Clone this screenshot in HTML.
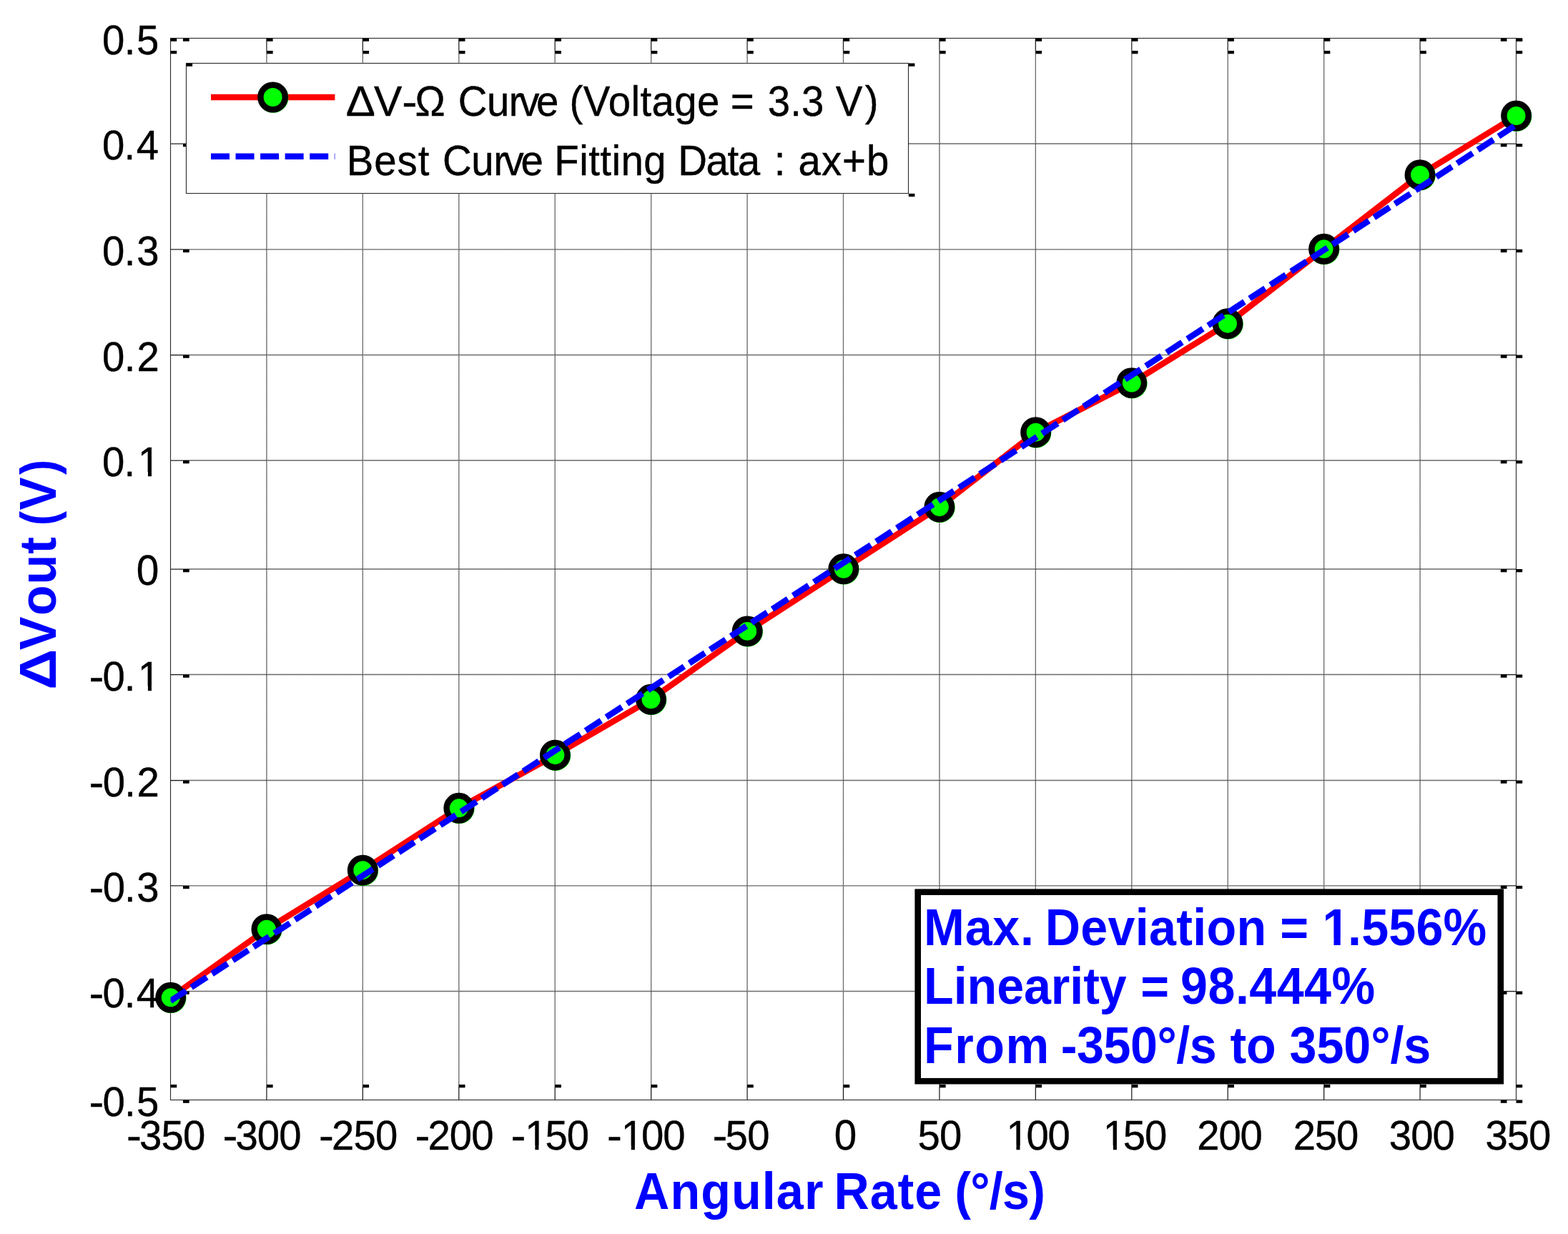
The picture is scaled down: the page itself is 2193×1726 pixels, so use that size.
<!DOCTYPE html>
<html lang="en"><head><meta charset="utf-8"><title>ΔVout vs Angular Rate</title>
<style>html,body{margin:0;padding:0;background:#fff;overflow:hidden}svg{display:block}text{font-family:"Liberation Sans",Arial,Helvetica,sans-serif}</style></head>
<body>
<svg width="2193" height="1726" viewBox="0 0 2193 1726" role="img" aria-label="ΔVout versus angular rate">
<title>ΔVout (V) versus Angular Rate (°/s)</title>
<desc>Line chart. Y axis: ΔVout (V), from -0.5 to 0.5 (ticks 0.5 0.4 0.3 0.2 0.1 0 -0.1 -0.2 -0.3 -0.4 -0.5). X axis: Angular Rate (°/s), from -350 to 350 (ticks -350 -300 -250 -200 -150 -100 -50 0 50 100 150 200 250 300 350). Legend: ΔV-Ω Curve (Voltage = 3.3 V); Best Curve Fitting Data : ax+b. Note: Max. Deviation = 1.556%, Linearity = 98.444%, From -350°/s to 350°/s.</desc>
<rect width="2193" height="1726" fill="#fff"/>
<path d="M372.93 54V1538.5M507.36 54V1538.5M641.79 54V1538.5M776.21 54V1538.5M910.64 54V1538.5M1045.07 54V1538.5M1179.5 54V1538.5M1313.93 54V1538.5M1448.36 54V1538.5M1582.79 54V1538.5M1717.21 54V1538.5M1851.64 54V1538.5M1986.07 54V1538.5M239 201H2120.5M239 348.8H2120.5M239 496.5H2120.5M239 644H2120.5M239 796H2120.5M239 943.5H2120.5M239 1091.5H2120.5M239 1238.9H2120.5M239 1386.5H2120.5" stroke="#000" stroke-width="1.3" stroke-opacity="0.4" fill="none"/>
<path d="M372.93 54V1538.5M507.36 54V1538.5M641.79 54V1538.5M776.21 54V1538.5M910.64 54V1538.5M1045.07 54V1538.5M1179.5 54V1538.5M1313.93 54V1538.5M1448.36 54V1538.5M1582.79 54V1538.5M1717.21 54V1538.5M1851.64 54V1538.5M1986.07 54V1538.5M239 201H2120.5M239 348.8H2120.5M239 496.5H2120.5M239 644H2120.5M239 796H2120.5M239 943.5H2120.5M239 1091.5H2120.5M239 1238.9H2120.5M239 1386.5H2120.5" stroke="#000" stroke-width="1.3" stroke-dasharray="1 1" stroke-opacity="0.55" fill="none"/>
<path d="M372.93 53.5L372.93 71M372.93 1521L372.93 1538.5M507.36 53.5L507.36 71M507.36 1521L507.36 1538.5M641.79 53.5L641.79 71M641.79 1521L641.79 1538.5M776.21 53.5L776.21 71M776.21 1521L776.21 1538.5M910.64 53.5L910.64 71M910.64 1521L910.64 1538.5M1045.07 53.5L1045.07 71M1045.07 1521L1045.07 1538.5M1179.5 53.5L1179.5 71M1179.5 1521L1179.5 1538.5M1313.93 53.5L1313.93 71M1313.93 1521L1313.93 1538.5M1448.36 53.5L1448.36 71M1448.36 1521L1448.36 1538.5M1582.79 53.5L1582.79 71M1582.79 1521L1582.79 1538.5M1717.21 53.5L1717.21 71M1717.21 1521L1717.21 1538.5M1851.64 53.5L1851.64 71M1851.64 1521L1851.64 1538.5M1986.07 53.5L1986.07 71M1986.07 1521L1986.07 1538.5M238.5 201L256 201M2098.8 201L2120.5 201M238.5 348.8L256 348.8M2098.8 348.8L2120.5 348.8M238.5 496.5L256 496.5M2098.8 496.5L2120.5 496.5M238.5 644L256 644M2098.8 644L2120.5 644M238.5 796L256 796M2098.8 796L2120.5 796M238.5 943.5L256 943.5M2098.8 943.5L2120.5 943.5M238.5 1091.5L256 1091.5M2098.8 1091.5L2120.5 1091.5M238.5 1238.9L256 1238.9M2098.8 1238.9L2120.5 1238.9M238.5 1386.5L256 1386.5M2098.8 1386.5L2120.5 1386.5" stroke="#fff" stroke-width="2.2" fill="none"/>
<rect x="238.5" y="53.5" width="1882" height="1485" fill="none" stroke="#303030" stroke-width="1.15"/>
<path d="M372.93 53.5L372.93 71M372.93 1521L372.93 1538.5M507.36 53.5L507.36 71M507.36 1521L507.36 1538.5M641.79 53.5L641.79 71M641.79 1521L641.79 1538.5M776.21 53.5L776.21 71M776.21 1521L776.21 1538.5M910.64 53.5L910.64 71M910.64 1521L910.64 1538.5M1045.07 53.5L1045.07 71M1045.07 1521L1045.07 1538.5M1179.5 53.5L1179.5 71M1179.5 1521L1179.5 1538.5M1313.93 53.5L1313.93 71M1313.93 1521L1313.93 1538.5M1448.36 53.5L1448.36 71M1448.36 1521L1448.36 1538.5M1582.79 53.5L1582.79 71M1582.79 1521L1582.79 1538.5M1717.21 53.5L1717.21 71M1717.21 1521L1717.21 1538.5M1851.64 53.5L1851.64 71M1851.64 1521L1851.64 1538.5M1986.07 53.5L1986.07 71M1986.07 1521L1986.07 1538.5M238.5 201L256 201M2098.8 201L2120.5 201M238.5 348.8L256 348.8M2098.8 348.8L2120.5 348.8M238.5 496.5L256 496.5M2098.8 496.5L2120.5 496.5M238.5 644L256 644M2098.8 644L2120.5 644M238.5 796L256 796M2098.8 796L2120.5 796M238.5 943.5L256 943.5M2098.8 943.5L2120.5 943.5M238.5 1091.5L256 1091.5M2098.8 1091.5L2120.5 1091.5M238.5 1238.9L256 1238.9M2098.8 1238.9L2120.5 1238.9M238.5 1386.5L256 1386.5M2098.8 1386.5L2120.5 1386.5" stroke="#222" stroke-width="1.25" fill="none"/>
<g fill="#000"><rect x="238.5" y="53.5" width="8.7" height="4.3"/><rect x="238.5" y="71" width="8.7" height="4.3"/><rect x="238.5" y="1517" width="8.7" height="4.3"/><rect x="372.93" y="53.5" width="8.7" height="4.3"/><rect x="372.93" y="71" width="8.7" height="4.3"/><rect x="372.93" y="1517" width="8.7" height="4.3"/><rect x="507.36" y="53.5" width="8.7" height="4.3"/><rect x="507.36" y="71" width="8.7" height="4.3"/><rect x="507.36" y="1517" width="8.7" height="4.3"/><rect x="641.79" y="53.5" width="8.7" height="4.3"/><rect x="641.79" y="71" width="8.7" height="4.3"/><rect x="641.79" y="1517" width="8.7" height="4.3"/><rect x="776.21" y="53.5" width="8.7" height="4.3"/><rect x="776.21" y="71" width="8.7" height="4.3"/><rect x="776.21" y="1517" width="8.7" height="4.3"/><rect x="910.64" y="53.5" width="8.7" height="4.3"/><rect x="910.64" y="71" width="8.7" height="4.3"/><rect x="910.64" y="1517" width="8.7" height="4.3"/><rect x="1045.07" y="53.5" width="8.7" height="4.3"/><rect x="1045.07" y="71" width="8.7" height="4.3"/><rect x="1045.07" y="1517" width="8.7" height="4.3"/><rect x="1179.5" y="53.5" width="8.7" height="4.3"/><rect x="1179.5" y="71" width="8.7" height="4.3"/><rect x="1179.5" y="1517" width="8.7" height="4.3"/><rect x="1313.93" y="53.5" width="8.7" height="4.3"/><rect x="1313.93" y="71" width="8.7" height="4.3"/><rect x="1313.93" y="1517" width="8.7" height="4.3"/><rect x="1448.36" y="53.5" width="8.7" height="4.3"/><rect x="1448.36" y="71" width="8.7" height="4.3"/><rect x="1448.36" y="1517" width="8.7" height="4.3"/><rect x="1582.79" y="53.5" width="8.7" height="4.3"/><rect x="1582.79" y="71" width="8.7" height="4.3"/><rect x="1582.79" y="1517" width="8.7" height="4.3"/><rect x="1717.21" y="53.5" width="8.7" height="4.3"/><rect x="1717.21" y="71" width="8.7" height="4.3"/><rect x="1717.21" y="1517" width="8.7" height="4.3"/><rect x="1851.64" y="53.5" width="8.7" height="4.3"/><rect x="1851.64" y="71" width="8.7" height="4.3"/><rect x="1851.64" y="1517" width="8.7" height="4.3"/><rect x="1986.07" y="53.5" width="8.7" height="4.3"/><rect x="1986.07" y="71" width="8.7" height="4.3"/><rect x="1986.07" y="1517" width="8.7" height="4.3"/><rect x="2120.5" y="53.5" width="8.7" height="4.3"/><rect x="2120.5" y="71" width="8.7" height="4.3"/><rect x="2120.5" y="1517" width="8.7" height="4.3"/><rect x="256" y="53.5" width="8.7" height="4.3"/><rect x="2098.8" y="53.5" width="8.7" height="4.3"/><rect x="2120.5" y="53.5" width="8.7" height="4.3"/><rect x="256" y="201" width="8.7" height="4.3"/><rect x="2098.8" y="201" width="8.7" height="4.3"/><rect x="2120.5" y="201" width="8.7" height="4.3"/><rect x="256" y="348.8" width="8.7" height="4.3"/><rect x="2098.8" y="348.8" width="8.7" height="4.3"/><rect x="2120.5" y="348.8" width="8.7" height="4.3"/><rect x="256" y="496.5" width="8.7" height="4.3"/><rect x="2098.8" y="496.5" width="8.7" height="4.3"/><rect x="2120.5" y="496.5" width="8.7" height="4.3"/><rect x="256" y="644" width="8.7" height="4.3"/><rect x="2098.8" y="644" width="8.7" height="4.3"/><rect x="2120.5" y="644" width="8.7" height="4.3"/><rect x="256" y="796" width="8.7" height="4.3"/><rect x="2098.8" y="796" width="8.7" height="4.3"/><rect x="2120.5" y="796" width="8.7" height="4.3"/><rect x="256" y="943.5" width="8.7" height="4.3"/><rect x="2098.8" y="943.5" width="8.7" height="4.3"/><rect x="2120.5" y="943.5" width="8.7" height="4.3"/><rect x="256" y="1091.5" width="8.7" height="4.3"/><rect x="2098.8" y="1091.5" width="8.7" height="4.3"/><rect x="2120.5" y="1091.5" width="8.7" height="4.3"/><rect x="256" y="1238.9" width="8.7" height="4.3"/><rect x="2098.8" y="1238.9" width="8.7" height="4.3"/><rect x="2120.5" y="1238.9" width="8.7" height="4.3"/><rect x="256" y="1386.5" width="8.7" height="4.3"/><rect x="2098.8" y="1386.5" width="8.7" height="4.3"/><rect x="2120.5" y="1386.5" width="8.7" height="4.3"/><rect x="256" y="1538.5" width="8.7" height="4.3"/><rect x="2098.8" y="1538.5" width="8.7" height="4.3"/><rect x="2120.5" y="1538.5" width="8.7" height="4.3"/></g>
<path d="M238.7 1395.3 L372.9 1299.6 L507.3 1217.2 L641.8 1130.3 L776.4 1056.2 L910.5 978.3 L1045.2 882.9 L1179.8 795.8 L1313.9 709.2 L1448.6 604.7 L1582.8 535.6 L1717 452.7 L1851.6 348.3 L1986 244.6 L2120.6 162" fill="none" stroke="#ff0000" stroke-width="8.5" stroke-linejoin="round"/>
<g><circle cx="239.3" cy="1395.9" r="21.2" fill="#00ff00"/><circle cx="238.7" cy="1395.3" r="17.2" fill="#00ff00" stroke="#000" stroke-width="8.5"/><circle cx="373.5" cy="1300.2" r="21.2" fill="#00ff00"/><circle cx="372.9" cy="1299.6" r="17.2" fill="#00ff00" stroke="#000" stroke-width="8.5"/><circle cx="507.9" cy="1217.8" r="21.2" fill="#00ff00"/><circle cx="507.3" cy="1217.2" r="17.2" fill="#00ff00" stroke="#000" stroke-width="8.5"/><circle cx="642.4" cy="1130.9" r="21.2" fill="#00ff00"/><circle cx="641.8" cy="1130.3" r="17.2" fill="#00ff00" stroke="#000" stroke-width="8.5"/><circle cx="777" cy="1056.8" r="21.2" fill="#00ff00"/><circle cx="776.4" cy="1056.2" r="17.2" fill="#00ff00" stroke="#000" stroke-width="8.5"/><circle cx="911.1" cy="978.9" r="21.2" fill="#00ff00"/><circle cx="910.5" cy="978.3" r="17.2" fill="#00ff00" stroke="#000" stroke-width="8.5"/><circle cx="1045.8" cy="883.5" r="21.2" fill="#00ff00"/><circle cx="1045.2" cy="882.9" r="17.2" fill="#00ff00" stroke="#000" stroke-width="8.5"/><circle cx="1180.4" cy="796.4" r="21.2" fill="#00ff00"/><circle cx="1179.8" cy="795.8" r="17.2" fill="#00ff00" stroke="#000" stroke-width="8.5"/><circle cx="1314.5" cy="709.8" r="21.2" fill="#00ff00"/><circle cx="1313.9" cy="709.2" r="17.2" fill="#00ff00" stroke="#000" stroke-width="8.5"/><circle cx="1449.2" cy="605.3" r="21.2" fill="#00ff00"/><circle cx="1448.6" cy="604.7" r="17.2" fill="#00ff00" stroke="#000" stroke-width="8.5"/><circle cx="1583.4" cy="536.2" r="21.2" fill="#00ff00"/><circle cx="1582.8" cy="535.6" r="17.2" fill="#00ff00" stroke="#000" stroke-width="8.5"/><circle cx="1717.6" cy="453.3" r="21.2" fill="#00ff00"/><circle cx="1717" cy="452.7" r="17.2" fill="#00ff00" stroke="#000" stroke-width="8.5"/><circle cx="1852.2" cy="348.9" r="21.2" fill="#00ff00"/><circle cx="1851.6" cy="348.3" r="17.2" fill="#00ff00" stroke="#000" stroke-width="8.5"/><circle cx="1986.6" cy="245.2" r="21.2" fill="#00ff00"/><circle cx="1986" cy="244.6" r="17.2" fill="#00ff00" stroke="#000" stroke-width="8.5"/><circle cx="2121.2" cy="162.6" r="21.2" fill="#00ff00"/><circle cx="2120.6" cy="162" r="17.2" fill="#00ff00" stroke="#000" stroke-width="8.5"/></g>
<clipPath id="axclip"><rect x="238.5" y="53.5" width="1882" height="1485"/></clipPath>
<line clip-path="url(#axclip)" x1="228.44" y1="1406.45" x2="2130.56" y2="168.15" stroke="#0000ff" stroke-width="8.5" stroke-dasharray="26.05 8.58" stroke-dashoffset="22.63"/>
<rect x="260.5" y="88.5" width="1010" height="182" fill="#fff" stroke="#303030" stroke-width="1.15"/>
<g fill="#000"><rect x="260.5" y="88.5" width="8.6" height="4.3"/><rect x="1270.8" y="88.5" width="8.6" height="4.3"/><rect x="1270.8" y="270.8" width="8.6" height="4.3"/></g>
<line x1="295" y1="136" x2="468.4" y2="136" stroke="#ff0000" stroke-width="8.5"/>
<circle cx="382.2" cy="136.6" r="21.2" fill="#00ff00"/><circle cx="381.6" cy="136" r="17.2" fill="#00ff00" stroke="#000" stroke-width="8.5"/>
<line x1="295" y1="218.7" x2="468.4" y2="218.7" stroke="#0000ff" stroke-width="8.5" stroke-dasharray="26 8.55"/>
<rect x="1283.7" y="1247.7" width="815.1" height="264.5" fill="#fff" stroke="#000" stroke-width="8.6"/>
<text transform="translate(177 1608.3) scale(0.9650 1)" font-size="58.3" letter-spacing="-0.82" fill="#000" stroke="#000" stroke-width="0.4"><tspan textLength="20.73" lengthAdjust="spacingAndGlyphs">-</tspan><tspan dx="-2.14">3</tspan>50</text>
<text transform="translate(311.5 1608.3) scale(0.9650 1)" font-size="58.3" letter-spacing="-0.85" fill="#000" stroke="#000" stroke-width="0.4"><tspan textLength="20.70" lengthAdjust="spacingAndGlyphs">-</tspan><tspan dx="-2.14">3</tspan>00</text>
<text transform="translate(446.1 1608.3) scale(0.9650 1)" font-size="58.3" letter-spacing="-0.85" fill="#000" stroke="#000" stroke-width="0.4"><tspan textLength="20.70" lengthAdjust="spacingAndGlyphs">-</tspan><tspan dx="-2.14">2</tspan>50</text>
<text transform="translate(580.5 1608.3) scale(0.9650 1)" font-size="58.3" letter-spacing="-0.85" fill="#000" stroke="#000" stroke-width="0.4"><tspan textLength="20.70" lengthAdjust="spacingAndGlyphs">-</tspan><tspan dx="-2.14">2</tspan>00</text>
<text transform="translate(714.5 1608.3) scale(0.9650 1)" font-size="58.3" letter-spacing="-1.05" fill="#000" stroke="#000" stroke-width="0.4"><tspan textLength="20.50" lengthAdjust="spacingAndGlyphs">-</tspan><tspan dx="0.06">1</tspan><tspan dx="-2.20">5</tspan>0</text>
<text transform="translate(848.9 1608.3) scale(0.9650 1)" font-size="58.3" letter-spacing="-1.05" fill="#000" stroke="#000" stroke-width="0.4"><tspan textLength="20.50" lengthAdjust="spacingAndGlyphs">-</tspan><tspan dx="0.06">1</tspan><tspan dx="-2.20">0</tspan>0</text>
<text transform="translate(996.5 1608.3) scale(0.9650 1)" font-size="58.3" letter-spacing="-0.64" fill="#000" stroke="#000" stroke-width="0.4"><tspan textLength="20.91" lengthAdjust="spacingAndGlyphs">-</tspan><tspan dx="-2.14">5</tspan>0</text>
<text transform="translate(1166.78 1608.3) scale(0.9699 1)" font-size="58.3" fill="#000" stroke="#000" stroke-width="0.4">0</text>
<text transform="translate(1283.58 1608.3) scale(0.9650 1)" font-size="58.3" letter-spacing="-0.92" fill="#000" stroke="#000" stroke-width="0.4">50</text>
<text transform="translate(1405.26 1608.3) scale(0.9650 1)" font-size="58.3" letter-spacing="-1.20" fill="#000" stroke="#000" stroke-width="0.4"><tspan dx="2.20">1</tspan><tspan dx="-2.20">0</tspan>0</text>
<text transform="translate(1540.66 1608.3) scale(0.9650 1)" font-size="58.3" letter-spacing="-1.20" fill="#000" stroke="#000" stroke-width="0.4"><tspan dx="2.20">1</tspan><tspan dx="-2.20">5</tspan>0</text>
<text transform="translate(1674.26 1608.3) scale(0.9650 1)" font-size="58.3" letter-spacing="-1.20" fill="#000" stroke="#000" stroke-width="0.4">200</text>
<text transform="translate(1808.66 1608.3) scale(0.9650 1)" font-size="58.3" letter-spacing="-1.20" fill="#000" stroke="#000" stroke-width="0.4">250</text>
<text transform="translate(1942.79 1608.3) scale(0.9650 1)" font-size="58.3" letter-spacing="-0.96" fill="#000" stroke="#000" stroke-width="0.4">300</text>
<text transform="translate(2077.39 1608.3) scale(0.9650 1)" font-size="58.3" letter-spacing="-1.06" fill="#000" stroke="#000" stroke-width="0.4">350</text>
<text transform="translate(143 75.5) scale(0.9650 1)" font-size="58.3" letter-spacing="0.63" fill="#000" stroke="#000" stroke-width="0.4">0<tspan dx="-1.30">.</tspan><tspan dx="1.30">5</tspan></text>
<text transform="translate(143 223) scale(0.9650 1)" font-size="58.3" letter-spacing="0.44" fill="#000" stroke="#000" stroke-width="0.4">0<tspan dx="-1.30">.</tspan><tspan dx="1.30">4</tspan></text>
<text transform="translate(143 370.8) scale(0.9650 1)" font-size="58.3" letter-spacing="0.70" fill="#000" stroke="#000" stroke-width="0.4">0<tspan dx="-1.30">.</tspan><tspan dx="1.30">3</tspan></text>
<text transform="translate(143 518.5) scale(0.9650 1)" font-size="58.3" letter-spacing="0.86" fill="#000" stroke="#000" stroke-width="0.4">0<tspan dx="-1.30">.</tspan><tspan dx="1.30">2</tspan></text>
<text transform="translate(143 666) scale(0.9650 1)" font-size="58.3" letter-spacing="0.44" fill="#000" stroke="#000" stroke-width="0.4">0<tspan dx="-1.30">.</tspan><tspan dx="3.50">1</tspan></text>
<text transform="translate(190.78 818) scale(0.9735 1)" font-size="58.3" fill="#000" stroke="#000" stroke-width="0.4">0</text>
<text transform="translate(124.6 965.5) scale(0.9650 1)" font-size="58.3" letter-spacing="0.16" fill="#000" stroke="#000" stroke-width="0.4"><tspan textLength="21.71" lengthAdjust="spacingAndGlyphs">-</tspan><tspan dx="-2.14">0</tspan><tspan dx="-1.30">.</tspan><tspan dx="3.50">1</tspan></text>
<text transform="translate(124.6 1113.5) scale(0.9650 1)" font-size="58.3" letter-spacing="0.43" fill="#000" stroke="#000" stroke-width="0.4"><tspan textLength="21.98" lengthAdjust="spacingAndGlyphs">-</tspan><tspan dx="-2.14">0</tspan><tspan dx="-1.30">.</tspan><tspan dx="1.30">2</tspan></text>
<text transform="translate(124.6 1260.9) scale(0.9650 1)" font-size="58.3" letter-spacing="0.33" fill="#000" stroke="#000" stroke-width="0.4"><tspan textLength="21.88" lengthAdjust="spacingAndGlyphs">-</tspan><tspan dx="-2.14">0</tspan><tspan dx="-1.30">.</tspan><tspan dx="1.30">3</tspan></text>
<text transform="translate(124.6 1408.5) scale(0.9650 1)" font-size="58.3" letter-spacing="0.16" fill="#000" stroke="#000" stroke-width="0.4"><tspan textLength="21.71" lengthAdjust="spacingAndGlyphs">-</tspan><tspan dx="-2.14">0</tspan><tspan dx="-1.30">.</tspan><tspan dx="1.30">4</tspan></text>
<text transform="translate(124.6 1560.5) scale(0.9650 1)" font-size="58.3" letter-spacing="0.28" fill="#000" stroke="#000" stroke-width="0.4"><tspan textLength="21.83" lengthAdjust="spacingAndGlyphs">-</tspan><tspan dx="-2.14">0</tspan><tspan dx="-1.30">.</tspan><tspan dx="1.30">5</tspan></text>
<text transform="translate(0 162.2) scale(0.9640 1)" font-size="58.5" fill="#000" stroke="#000" stroke-width="0.4" xml:space="preserve"><tspan x="501.83" textLength="42.63" lengthAdjust="spacingAndGlyphs">Δ</tspan><tspan x="542.47" textLength="40.79" lengthAdjust="spacingAndGlyphs">V</tspan><tspan x="583.15" textLength="22.07" lengthAdjust="spacingAndGlyphs">-</tspan><tspan x="602.28" textLength="43.8" lengthAdjust="spacingAndGlyphs">Ω</tspan> <tspan x="664.64" letter-spacing="-0.52">Cur<tspan dx="-4.00">v</tspan><tspan dx="-4.00">e</tspan></tspan> <tspan x="826.23" letter-spacing="0.46">(Voltage</tspan> <tspan x="1059.9">=</tspan> <tspan x="1113.89" letter-spacing="0.14">3.3</tspan> <tspan x="1212.28" letter-spacing="3.60">V)</tspan></text>
<text transform="translate(0 245) scale(0.9640 1)" font-size="58.5" fill="#000" stroke="#000" stroke-width="0.4" xml:space="preserve"><tspan x="502.87" letter-spacing="0.98">Best</tspan> <tspan x="642.24" letter-spacing="-0.52">Cur<tspan dx="-4.00">v</tspan><tspan dx="-4.00">e</tspan></tspan> <tspan x="804.32" letter-spacing="0.47">Fitting</tspan> <tspan x="983.78" letter-spacing="-1.53">Data</tspan> <tspan x="1123.1">:</tspan> <tspan x="1158.27" letter-spacing="1.03">ax+b</tspan></text>
<text transform="translate(0 1322.1) scale(0.9350 1)" font-size="73" font-weight="bold" fill="#0000ff" xml:space="preserve"><tspan x="1381.91" letter-spacing="0.77">Max.</tspan> <tspan x="1563.35" letter-spacing="0.32">Deviation</tspan> <tspan x="1914.65">=</tspan> <tspan x="1975.28" letter-spacing="0.20"><tspan dx="2.74">1</tspan><tspan dx="-2.74">.</tspan>556%</tspan></text>
<text transform="translate(0 1403.9) scale(0.9350 1)" font-size="73" font-weight="bold" fill="#0000ff" xml:space="preserve"><tspan x="1381.91" letter-spacing="-0.10">Linearity</tspan> <tspan x="1706.14">=</tspan> <tspan x="1765.89" letter-spacing="0.47">98.444%</tspan></text>
<text transform="translate(0 1487) scale(0.9350 1)" font-size="73" font-weight="bold" fill="#0000ff" xml:space="preserve"><tspan x="1381.91" letter-spacing="1.60">From</tspan> <tspan x="1586.77" letter-spacing="-0.48">-350°/s</tspan> <tspan x="1840.16" letter-spacing="-0.16">to</tspan> <tspan x="1928.94" letter-spacing="-0.08">350°/s</tspan></text>
<text transform="translate(0 1690.6) scale(0.9350 1)" font-size="73" font-weight="bold" fill="#0000ff" xml:space="preserve"><tspan x="948.77" letter-spacing="1.17">Angular</tspan> <tspan x="1247.52" letter-spacing="1.04">Rate</tspan> <tspan x="1428.01" letter-spacing="-0.78">(°/s)</tspan></text>
<text transform="translate(78.4 0) rotate(-90)" font-size="73" font-weight="bold" fill="#0000ff" xml:space="preserve"><tspan x="-964.71" textLength="56.96" lengthAdjust="spacingAndGlyphs">Δ</tspan><tspan x="-909.28" textLength="46.86" lengthAdjust="spacingAndGlyphs">V</tspan><tspan x="-861.01" textLength="42.43" lengthAdjust="spacingAndGlyphs">o</tspan><tspan x="-817.55" textLength="41.87" lengthAdjust="spacingAndGlyphs">u</tspan><tspan x="-774.67" textLength="23.74" lengthAdjust="spacingAndGlyphs">t</tspan> <tspan x="-735.1" font-size="70.4" textLength="20.06" lengthAdjust="spacingAndGlyphs">(</tspan><tspan x="-713.57" textLength="45.94" lengthAdjust="spacingAndGlyphs">V</tspan><tspan x="-664.06" font-size="70.4" textLength="21.24" lengthAdjust="spacingAndGlyphs">)</tspan></text>
<g fill="#fff"><rect x="736.78" y="1602.35" width="11.63" height="8.35"/><rect x="753.47" y="1602.35" width="11.06" height="8.35"/><rect x="871.18" y="1602.35" width="11.63" height="8.35"/><rect x="887.87" y="1602.35" width="11.06" height="8.35"/><rect x="1409.82" y="1602.35" width="11.63" height="8.35"/><rect x="1426.51" y="1602.35" width="11.06" height="8.35"/><rect x="1545.22" y="1602.35" width="11.63" height="8.35"/><rect x="1561.91" y="1602.35" width="11.06" height="8.35"/><rect x="195.33" y="660.05" width="11.63" height="8.35"/><rect x="212.02" y="660.05" width="11.06" height="8.35"/><rect x="195.27" y="959.55" width="11.63" height="8.35"/><rect x="211.96" y="959.55" width="11.06" height="8.35"/><rect x="1852.05" y="1313.18" width="13.44" height="11.32"/><rect x="1874.71" y="1313.18" width="12.56" height="11.32"/></g>
</svg>
</body></html>
